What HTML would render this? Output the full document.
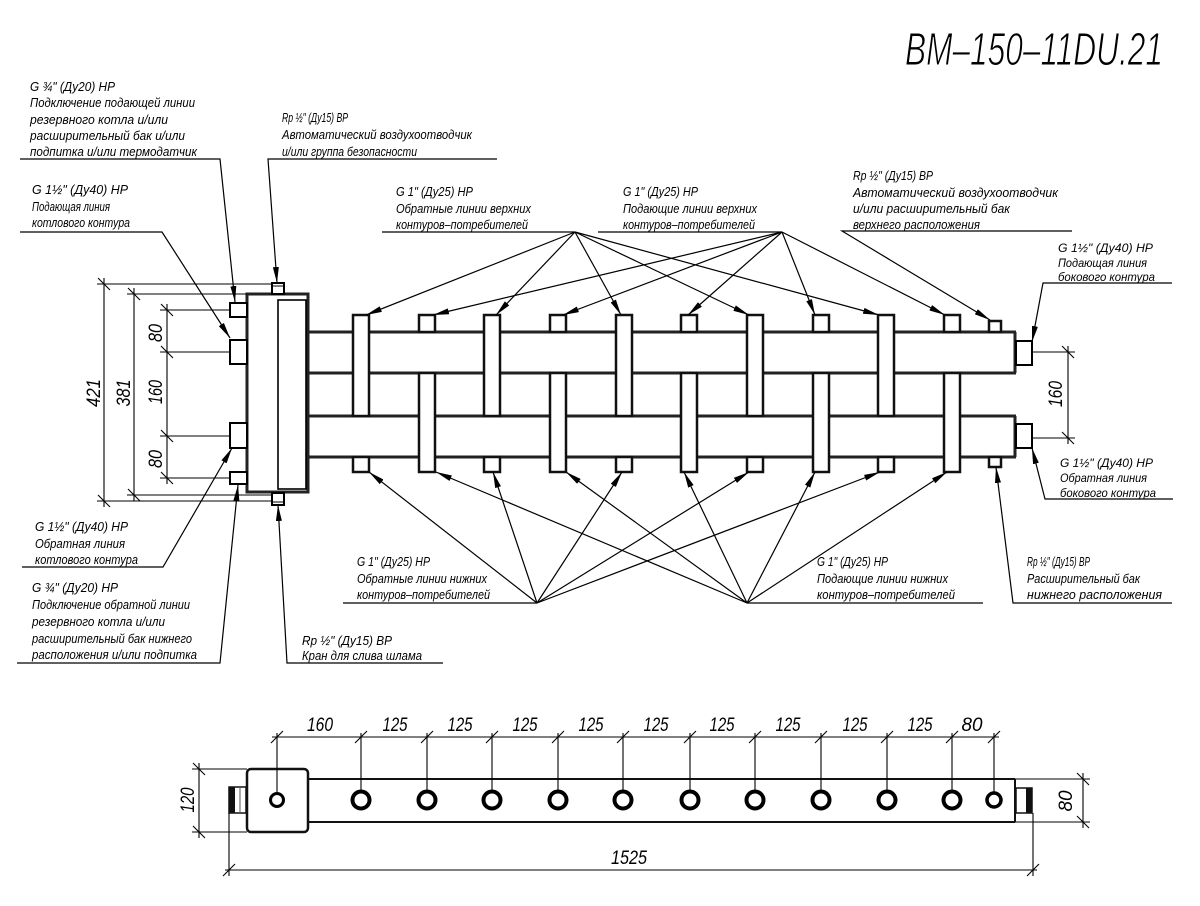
<!DOCTYPE html>
<html><head><meta charset="utf-8"><style>
html,body{margin:0;padding:0;background:#fff;}
svg{display:block;}
text{font-family:"Liberation Sans",sans-serif;font-style:italic;fill:#000;}
.t{font-size:13px;}
.d{font-size:19px;}
</style></head><body>
<svg width="1200" height="906" viewBox="0 0 1200 906" xmlns="http://www.w3.org/2000/svg">
<defs>
<marker id="a" viewBox="0 0 16 6" refX="16" refY="3" markerWidth="16" markerHeight="6" orient="auto" markerUnits="userSpaceOnUse"><path d="M0,0L16,3L0,6z" fill="#000"/></marker>
</defs>

<!-- Title -->
<text x="905" y="65" font-size="46" textLength="258" lengthAdjust="spacingAndGlyphs" stroke="#fff" stroke-width="1">BM–150–11DU.21</text>

<!-- ===== MAIN VIEW: pipes ===== -->
<g stroke="#222" stroke-width="3" fill="none">
<line x1="308" y1="332" x2="1016" y2="332"/>
<line x1="308" y1="373" x2="1016" y2="373"/>
<line x1="1015" y1="332" x2="1015" y2="373"/>
<line x1="308" y1="416" x2="1016" y2="416"/>
<line x1="308" y1="457" x2="1016" y2="457"/>
<line x1="1015" y1="416" x2="1015" y2="457"/>
</g>
<g stroke="#000" stroke-width="2" fill="#fff">
<rect x="1016" y="341" width="16" height="24"/>
<rect x="1016" y="424" width="16" height="24"/>
</g>

<g stroke="#111" stroke-width="2.5" fill="#fff">
<rect x="353" y="315" width="16" height="101"/>
<rect x="484" y="315" width="16" height="101"/>
<rect x="616" y="315" width="16" height="101"/>
<rect x="747" y="315" width="16" height="101"/>
<rect x="878" y="315" width="16" height="101"/>
<rect x="353" y="457" width="16" height="15"/>
<rect x="484" y="457" width="16" height="15"/>
<rect x="616" y="457" width="16" height="15"/>
<rect x="747" y="457" width="16" height="15"/>
<rect x="878" y="457" width="16" height="15"/>
<rect x="419" y="315" width="16" height="17"/>
<rect x="550" y="315" width="16" height="17"/>
<rect x="681" y="315" width="16" height="17"/>
<rect x="813" y="315" width="16" height="17"/>
<rect x="944" y="315" width="16" height="17"/>
<rect x="419" y="373" width="16" height="99"/>
<rect x="550" y="373" width="16" height="99"/>
<rect x="681" y="373" width="16" height="99"/>
<rect x="813" y="373" width="16" height="99"/>
<rect x="944" y="373" width="16" height="99"/>
<rect x="989" y="321" width="12" height="11"/>
<rect x="989" y="457" width="12" height="10"/>
</g>

<rect x="247" y="294" width="61" height="198" fill="#fff" stroke="#222" stroke-width="3"/>
<rect x="278" y="300" width="28" height="189" fill="none" stroke="#000" stroke-width="1.6"/>
<g stroke="#000" stroke-width="2" fill="#fff">
<rect x="230" y="303" width="17" height="14"/>
<rect x="230" y="340" width="17" height="24"/>
<rect x="230" y="423" width="17" height="25"/>
<rect x="230" y="472" width="17" height="12"/>
<rect x="272" y="283" width="12" height="11"/>
<rect x="272" y="493" width="12" height="12"/>
</g>
<g stroke="#000" stroke-width="1">
<line x1="272" y1="286" x2="284" y2="286"/>
<line x1="272" y1="502" x2="284" y2="502"/>
</g>

<g stroke="#000" stroke-width="1.1">
<line x1="97" y1="284" x2="272" y2="284"/>
<line x1="127" y1="294" x2="247" y2="294"/>
<line x1="160" y1="310" x2="230" y2="310"/>
<line x1="160" y1="352" x2="230" y2="352"/>
<line x1="160" y1="436" x2="230" y2="436"/>
<line x1="160" y1="478" x2="230" y2="478"/>
<line x1="127" y1="495" x2="272" y2="495"/>
<line x1="97" y1="501" x2="272" y2="501"/>
<line x1="104" y1="278" x2="104" y2="507"/>
<line x1="134" y1="288" x2="134" y2="501"/>
<line x1="167" y1="304" x2="167" y2="484"/>
<line x1="98" y1="278" x2="110" y2="290"/>
<line x1="98" y1="495" x2="110" y2="507"/>
<line x1="128" y1="288" x2="140" y2="300"/>
<line x1="128" y1="489" x2="140" y2="501"/>
<line x1="161" y1="304" x2="173" y2="316"/>
<line x1="161" y1="346" x2="173" y2="358"/>
<line x1="161" y1="430" x2="173" y2="442"/>
<line x1="161" y1="472" x2="173" y2="484"/>
<line x1="1032" y1="352" x2="1075" y2="352"/>
<line x1="1032" y1="438" x2="1075" y2="438"/>
<line x1="1068" y1="346" x2="1068" y2="444"/>
<line x1="1062" y1="346" x2="1074" y2="358"/>
<line x1="1062" y1="432" x2="1074" y2="444"/>
</g>
<text class="d" transform="translate(100,393) rotate(-90)" text-anchor="middle" textLength="28" lengthAdjust="spacingAndGlyphs">421</text>
<text class="d" transform="translate(130,393) rotate(-90)" text-anchor="middle" textLength="27" lengthAdjust="spacingAndGlyphs">381</text>
<text class="d" transform="translate(162,333) rotate(-90)" text-anchor="middle" textLength="18" lengthAdjust="spacingAndGlyphs">80</text>
<text class="d" transform="translate(162,392) rotate(-90)" text-anchor="middle" textLength="24" lengthAdjust="spacingAndGlyphs">160</text>
<text class="d" transform="translate(162,459) rotate(-90)" text-anchor="middle" textLength="18" lengthAdjust="spacingAndGlyphs">80</text>
<text class="d" transform="translate(1062,394) rotate(-90)" text-anchor="middle" textLength="26" lengthAdjust="spacingAndGlyphs">160</text>

<g stroke="#000" stroke-width="1.2" fill="none">
<polyline points="20,159 220,159 235,302" marker-end="url(#a)"/>
<polyline points="497,159 268,159 277,283" marker-end="url(#a)"/>
<polyline points="20,232 162,232 230,338" marker-end="url(#a)"/>
<line x1="382" y1="232" x2="575" y2="232"/>
<line x1="598" y1="232" x2="782" y2="232"/>
<polyline points="1072,231 842,231 990,320" marker-end="url(#a)"/>
<polyline points="1172,283 1043,283 1032,342" marker-end="url(#a)"/>
<polyline points="1173,499 1045,499 1032,448" marker-end="url(#a)"/>
<line x1="575" y1="232" x2="366" y2="315" marker-end="url(#a)"/>
<line x1="575" y1="232" x2="496" y2="315" marker-end="url(#a)"/>
<line x1="575" y1="232" x2="621" y2="315" marker-end="url(#a)"/>
<line x1="575" y1="232" x2="749" y2="315" marker-end="url(#a)"/>
<line x1="575" y1="232" x2="879" y2="315" marker-end="url(#a)"/>
<line x1="782" y1="232" x2="433" y2="315" marker-end="url(#a)"/>
<line x1="782" y1="232" x2="563" y2="315" marker-end="url(#a)"/>
<line x1="782" y1="232" x2="688" y2="315" marker-end="url(#a)"/>
<line x1="782" y1="232" x2="815" y2="315" marker-end="url(#a)"/>
<line x1="782" y1="232" x2="945" y2="315" marker-end="url(#a)"/>
<line x1="343" y1="603" x2="537" y2="603"/>
<line x1="747" y1="603" x2="983" y2="603"/>
<polyline points="1172,603 1013,603 996,467" marker-end="url(#a)"/>
<polyline points="22,567 163,567 232,448" marker-end="url(#a)"/>
<polyline points="17,663 220,663 238,485" marker-end="url(#a)"/>
<polyline points="443,663 287,663 278,505" marker-end="url(#a)"/>
<line x1="537" y1="603" x2="369" y2="472" marker-end="url(#a)"/>
<line x1="537" y1="603" x2="493" y2="472" marker-end="url(#a)"/>
<line x1="537" y1="603" x2="622" y2="472" marker-end="url(#a)"/>
<line x1="537" y1="603" x2="749" y2="472" marker-end="url(#a)"/>
<line x1="537" y1="603" x2="880" y2="472" marker-end="url(#a)"/>
<line x1="747" y1="603" x2="436" y2="472" marker-end="url(#a)"/>
<line x1="747" y1="603" x2="566" y2="472" marker-end="url(#a)"/>
<line x1="747" y1="603" x2="684" y2="472" marker-end="url(#a)"/>
<line x1="747" y1="603" x2="815" y2="472" marker-end="url(#a)"/>
<line x1="747" y1="603" x2="947" y2="472" marker-end="url(#a)"/>
</g>

<g class="t" font-size="13">
<text x="30" y="91" textLength="85" lengthAdjust="spacingAndGlyphs">G ¾" (Ду20) НР</text>
<text x="30" y="107" textLength="165" lengthAdjust="spacingAndGlyphs">Подключение подающей линии</text>
<text x="30" y="124" textLength="138" lengthAdjust="spacingAndGlyphs">резервного котла и/или</text>
<text x="30" y="140" textLength="155" lengthAdjust="spacingAndGlyphs">расширительный бак и/или</text>
<text x="30" y="156" textLength="167" lengthAdjust="spacingAndGlyphs">подпитка и/или термодатчик</text>

<text x="282" y="122" textLength="66" lengthAdjust="spacingAndGlyphs">Rp ½" (Ду15) ВР</text>
<text x="282" y="139" textLength="190" lengthAdjust="spacingAndGlyphs">Автоматический воздухоотводчик</text>
<text x="282" y="156" textLength="135" lengthAdjust="spacingAndGlyphs">и/или группа безопасности</text>

<text x="32" y="194" textLength="96" lengthAdjust="spacingAndGlyphs">G 1½" (Ду40) НР</text>
<text x="32" y="211" textLength="78" lengthAdjust="spacingAndGlyphs">Подающая линия</text>
<text x="32" y="227" textLength="98" lengthAdjust="spacingAndGlyphs">котлового контура</text>

<text x="396" y="196" textLength="77" lengthAdjust="spacingAndGlyphs">G 1" (Ду25) НР</text>
<text x="396" y="213" textLength="135" lengthAdjust="spacingAndGlyphs">Обратные линии верхних</text>
<text x="396" y="229" textLength="132" lengthAdjust="spacingAndGlyphs">контуров–потребителей</text>

<text x="623" y="196" textLength="75" lengthAdjust="spacingAndGlyphs">G 1" (Ду25) НР</text>
<text x="623" y="213" textLength="134" lengthAdjust="spacingAndGlyphs">Подающие линии верхних</text>
<text x="623" y="229" textLength="132" lengthAdjust="spacingAndGlyphs">контуров–потребителей</text>

<text x="853" y="180" textLength="80" lengthAdjust="spacingAndGlyphs">Rp ½" (Ду15) ВР</text>
<text x="853" y="197" textLength="205" lengthAdjust="spacingAndGlyphs">Автоматический воздухоотводчик</text>
<text x="853" y="213" textLength="157" lengthAdjust="spacingAndGlyphs">и/или расширительный бак</text>
<text x="853" y="229" textLength="127" lengthAdjust="spacingAndGlyphs">верхнего расположения</text>

<text x="357" y="566" textLength="73" lengthAdjust="spacingAndGlyphs">G 1" (Ду25) НР</text>
<text x="357" y="583" textLength="130" lengthAdjust="spacingAndGlyphs">Обратные линии нижних</text>
<text x="357" y="599" textLength="133" lengthAdjust="spacingAndGlyphs">контуров–потребителей</text>

<text x="817" y="566" textLength="71" lengthAdjust="spacingAndGlyphs">G 1" (Ду25) НР</text>
<text x="817" y="583" textLength="131" lengthAdjust="spacingAndGlyphs">Подающие линии нижних</text>
<text x="817" y="599" textLength="138" lengthAdjust="spacingAndGlyphs">контуров–потребителей</text>

<text x="1027" y="566" textLength="63" lengthAdjust="spacingAndGlyphs">Rp ½" (Ду15) ВР</text>
<text x="1027" y="583" textLength="113" lengthAdjust="spacingAndGlyphs">Расширительный бак</text>
<text x="1027" y="599" textLength="135" lengthAdjust="spacingAndGlyphs">нижнего расположения</text>

<text x="35" y="531" textLength="93" lengthAdjust="spacingAndGlyphs">G 1½" (Ду40) НР</text>
<text x="35" y="548" textLength="90" lengthAdjust="spacingAndGlyphs">Обратная линия</text>
<text x="35" y="564" textLength="103" lengthAdjust="spacingAndGlyphs">котлового контура</text>

<text x="32" y="592" textLength="86" lengthAdjust="spacingAndGlyphs">G ¾" (Ду20) НР</text>
<text x="32" y="609" textLength="158" lengthAdjust="spacingAndGlyphs">Подключение обратной линии</text>
<text x="32" y="626" textLength="133" lengthAdjust="spacingAndGlyphs">резервного котла и/или</text>
<text x="32" y="643" textLength="160" lengthAdjust="spacingAndGlyphs">расширительный бак нижнего</text>
<text x="32" y="659" textLength="165" lengthAdjust="spacingAndGlyphs">расположения и/или подпитка</text>

<text x="302" y="645" textLength="90" lengthAdjust="spacingAndGlyphs">Rp ½" (Ду15) ВР</text>
<text x="302" y="660" textLength="120" lengthAdjust="spacingAndGlyphs">Кран для слива шлама</text>
</g>
<g font-size="12">
<text x="1058" y="252" textLength="95" lengthAdjust="spacingAndGlyphs">G 1½" (Ду40) НР</text>
<text x="1058" y="267" textLength="89" lengthAdjust="spacingAndGlyphs">Подающая линия</text>
<text x="1058" y="281" textLength="97" lengthAdjust="spacingAndGlyphs">бокового контура</text>
<text x="1060" y="467" textLength="93" lengthAdjust="spacingAndGlyphs">G 1½" (Ду40) НР</text>
<text x="1060" y="482" textLength="87" lengthAdjust="spacingAndGlyphs">Обратная линия</text>
<text x="1060" y="497" textLength="96" lengthAdjust="spacingAndGlyphs">бокового контура</text>
</g>

<!-- ===== BOTTOM VIEW ===== -->
<g stroke="#111" stroke-width="2" fill="none">
<line x1="308" y1="779" x2="1015" y2="779"/>
<line x1="308" y1="822" x2="1015" y2="822"/>
<line x1="1015" y1="779" x2="1015" y2="822"/>
</g>
<rect x="247" y="769" width="61" height="63" rx="4" fill="#fff" stroke="#111" stroke-width="2.5"/>
<rect x="229" y="787" width="17" height="26" fill="#fff" stroke="#111" stroke-width="1.5"/>
<rect x="229" y="787" width="6" height="26" fill="#111"/>
<line x1="240" y1="787" x2="240" y2="813" stroke="#555" stroke-width="1"/>
<rect x="1016" y="788" width="16" height="25" fill="#fff" stroke="#111" stroke-width="1.5"/>
<rect x="1026" y="788" width="6" height="25" fill="#111"/>

<g fill="#fff" stroke="#000">
<circle cx="277" cy="800" r="6.5" stroke-width="3"/>
<circle cx="361" cy="800" r="8.5" stroke-width="4"/>
<circle cx="427" cy="800" r="8.5" stroke-width="4"/>
<circle cx="492" cy="800" r="8.5" stroke-width="4"/>
<circle cx="558" cy="800" r="8.5" stroke-width="4"/>
<circle cx="623" cy="800" r="8.5" stroke-width="4"/>
<circle cx="690" cy="800" r="8.5" stroke-width="4"/>
<circle cx="755" cy="800" r="8.5" stroke-width="4"/>
<circle cx="821" cy="800" r="8.5" stroke-width="4"/>
<circle cx="887" cy="800" r="8.5" stroke-width="4"/>
<circle cx="952" cy="800" r="8.5" stroke-width="4"/>
<circle cx="994" cy="800" r="7" stroke-width="3.5"/>
</g>

<g stroke="#000" stroke-width="1.1">
<line x1="272" y1="737" x2="999" y2="737"/>
<line x1="277" y1="733" x2="277" y2="793"/>
<line x1="361" y1="733" x2="361" y2="790"/>
<line x1="427" y1="733" x2="427" y2="790"/>
<line x1="492" y1="733" x2="492" y2="790"/>
<line x1="558" y1="733" x2="558" y2="790"/>
<line x1="623" y1="733" x2="623" y2="790"/>
<line x1="690" y1="733" x2="690" y2="790"/>
<line x1="755" y1="733" x2="755" y2="790"/>
<line x1="821" y1="733" x2="821" y2="790"/>
<line x1="887" y1="733" x2="887" y2="790"/>
<line x1="952" y1="733" x2="952" y2="790"/>
<line x1="994" y1="733" x2="994" y2="792"/>
<line x1="271" y1="743" x2="283" y2="731"/>
<line x1="355" y1="743" x2="367" y2="731"/>
<line x1="421" y1="743" x2="433" y2="731"/>
<line x1="486" y1="743" x2="498" y2="731"/>
<line x1="552" y1="743" x2="564" y2="731"/>
<line x1="617" y1="743" x2="629" y2="731"/>
<line x1="684" y1="743" x2="696" y2="731"/>
<line x1="749" y1="743" x2="761" y2="731"/>
<line x1="815" y1="743" x2="827" y2="731"/>
<line x1="881" y1="743" x2="893" y2="731"/>
<line x1="946" y1="743" x2="958" y2="731"/>
<line x1="988" y1="743" x2="1000" y2="731"/>
<line x1="192" y1="769" x2="247" y2="769"/>
<line x1="192" y1="832" x2="247" y2="832"/>
<line x1="199" y1="763" x2="199" y2="838"/>
<line x1="193" y1="763" x2="205" y2="775"/>
<line x1="193" y1="826" x2="205" y2="838"/>
<line x1="1015" y1="779" x2="1090" y2="779"/>
<line x1="1015" y1="822" x2="1090" y2="822"/>
<line x1="1083" y1="773" x2="1083" y2="828"/>
<line x1="1077" y1="773" x2="1089" y2="785"/>
<line x1="1077" y1="816" x2="1089" y2="828"/>
<line x1="229" y1="813" x2="229" y2="876"/>
<line x1="1033" y1="813" x2="1033" y2="876"/>
<line x1="225" y1="870" x2="1037" y2="870"/>
<line x1="223" y1="876" x2="235" y2="864"/>
<line x1="1027" y1="876" x2="1039" y2="864"/>
</g>

<g class="d" text-anchor="middle">
<text x="320" y="731" textLength="26" lengthAdjust="spacingAndGlyphs">160</text>
<text x="395" y="731" textLength="25" lengthAdjust="spacingAndGlyphs">125</text>
<text x="460" y="731" textLength="25" lengthAdjust="spacingAndGlyphs">125</text>
<text x="525" y="731" textLength="25" lengthAdjust="spacingAndGlyphs">125</text>
<text x="591" y="731" textLength="25" lengthAdjust="spacingAndGlyphs">125</text>
<text x="656" y="731" textLength="25" lengthAdjust="spacingAndGlyphs">125</text>
<text x="722" y="731" textLength="25" lengthAdjust="spacingAndGlyphs">125</text>
<text x="788" y="731" textLength="25" lengthAdjust="spacingAndGlyphs">125</text>
<text x="855" y="731" textLength="25" lengthAdjust="spacingAndGlyphs">125</text>
<text x="920" y="731" textLength="25" lengthAdjust="spacingAndGlyphs">125</text>
<text x="972" y="731" textLength="21" lengthAdjust="spacingAndGlyphs">80</text>
<text x="629" y="864" textLength="36" lengthAdjust="spacingAndGlyphs">1525</text>
</g>
<text class="d" transform="translate(194,800) rotate(-90)" text-anchor="middle" textLength="25" lengthAdjust="spacingAndGlyphs">120</text>
<text class="d" transform="translate(1072,801) rotate(-90)" text-anchor="middle" textLength="21" lengthAdjust="spacingAndGlyphs">80</text>

</svg>
</body></html>
